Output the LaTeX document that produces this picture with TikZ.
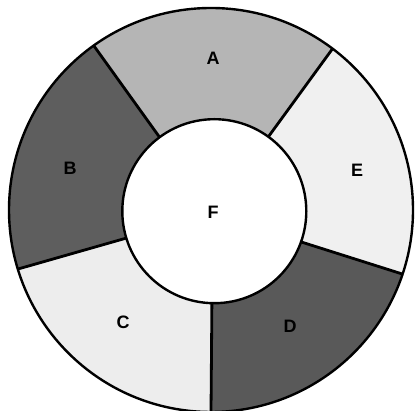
\documentclass[tikz,border=0pt]{standalone}
\usepackage{fontspec}
\setsansfont{Liberation Sans}
\usetikzlibrary{calc}
\definecolor{colA}{gray}{0.71}
\definecolor{colB}{gray}{0.37}
\definecolor{colC}{gray}{0.93}
\definecolor{colD}{gray}{0.35}
\definecolor{colE}{gray}{0.94}
\begin{document}
\begin{tikzpicture}[x=1pt,y=1pt,
  rim/.style={draw=black,line width=2.4pt},
  divider/.style={draw=black,line width=2.8pt},
  lbl/.style={font=\fontsize{18}{18}\selectfont\sffamily\bfseries,inner sep=0pt}]
\useasboundingbox (0,0) rectangle (417,411);
\clip (0,0) rectangle (417,411);
\fill[white] (0,0) rectangle (417,411);
\coordinate (O) at (211,201);
\coordinate (I) at (214.3,199.8);
% boundary points (outer / inner)
\coordinate (oAE) at ($(O)+(53:202pt)$);   \coordinate (iAE) at ($(I)+(54:92pt)$);
\coordinate (oAB) at ($(O)+(125.5:202pt)$); \coordinate (iAB) at ($(I)+(126.5:92pt)$);
\coordinate (oCB) at ($(O)+(197:202pt)$);  \coordinate (iCB) at ($(I)+(197:92pt)$);
\coordinate (oDC) at ($(O)+(270:202pt)$);  \coordinate (iDC) at ($(I)+(268.5:92pt)$);
\coordinate (oED) at ($(O)+(341.5:202pt)$); \coordinate (iED) at ($(I)+(340.5:92pt)$);
% segments
\fill[colA] (oAE) arc[start angle=53,end angle=125.5,radius=202pt] -- (iAB) arc[start angle=126.5,end angle=54,radius=92pt] -- cycle;
\fill[colB] (oAB) arc[start angle=125.5,end angle=197,radius=202pt] -- (iCB) arc[start angle=197,end angle=126.5,radius=92pt] -- cycle;
\fill[colC] (oCB) arc[start angle=197,end angle=270,radius=202pt] -- (iDC) arc[start angle=268.5,end angle=197,radius=92pt] -- cycle;
\fill[colD] (oDC) arc[start angle=270,end angle=341.5,radius=202pt] -- (iED) arc[start angle=340.5,end angle=268.5,radius=92pt] -- cycle;
\fill[colE] (oED) arc[start angle=341.5,end angle=413,radius=202pt] -- (iAE) arc[start angle=54,end angle=-19.5,radius=92pt] -- cycle;
% dividers
\draw[divider] (oAE) -- (iAE);
\draw[divider] (oAB) -- (iAB);
\draw[divider] (oCB) -- (iCB);
\draw[divider] (oDC) -- (iDC);
\draw[divider] (oED) -- (iED);
% circles
\draw[rim] (O) circle[radius=202pt];
\draw[rim,fill=white] (I) circle[radius=92pt];
% labels
\node[lbl] (A) at (213,353) {A};
\node[lbl] (B) at (70,243) {B};
\node[lbl] (C) at (123,89) {C};
\node[lbl] (D) at (290,85) {D};
\node[lbl] (E) at (357,241) {E};
\node[lbl] (F) at (213,199) {F};
\end{tikzpicture}
\end{document}
